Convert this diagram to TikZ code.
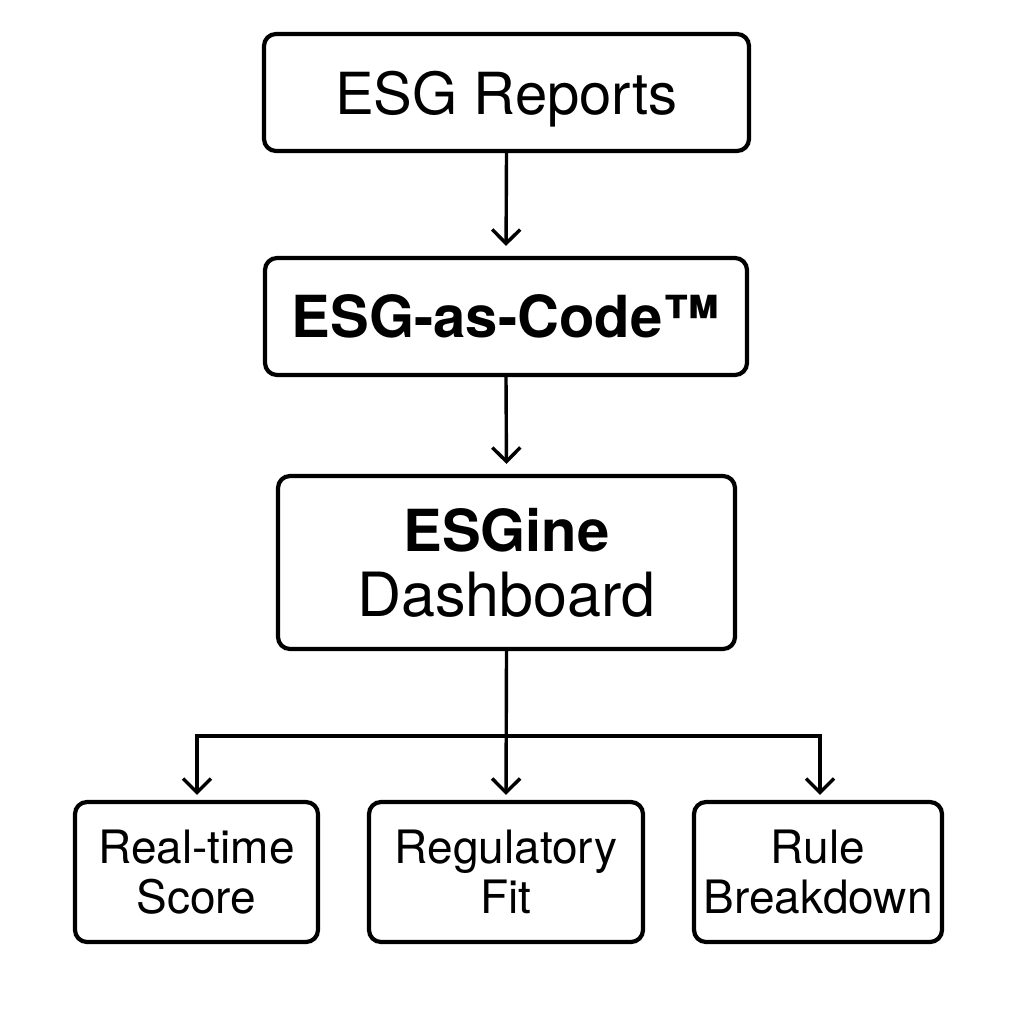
\documentclass[tikz,border=0pt]{standalone}
\usepackage{fontspec}
\setmainfont{TeX Gyre Heros}
\usetikzlibrary{arrows.meta}
\begin{document}
\begin{tikzpicture}[x=1pt,y=-1pt,
  box/.style={draw, line width=4.2pt, rounded corners=12pt, inner sep=0pt, align=center},
  bigtext/.style={font=\fontsize{58}{65}\selectfont},
  smalltext/.style={font=\fontsize{46}{50}\selectfont},
  link/.style={line width=3.4pt, line join=miter, -{Straight Barb[length=14pt,width=28pt,line width=3.4pt]}}]
\useasboundingbox (0,0) rectangle (1024,1024);
\node[box, bigtext, text depth=0pt, minimum width=485pt, minimum height=117pt] (rep) at (506.5,92.5) {ESG Reports};
\node[box, bigtext, minimum width=482pt, minimum height=117pt] (code) at (506,316.5) {\bfseries ESG-as-Code™};
\node[box, font=\fontsize{61}{65}\selectfont, minimum width=457pt, minimum height=173pt] (dash) at (506.5,562.5) {{\fontsize{58}{65}\selectfont\bfseries ESGine}\\Dashboard};
\node[box, smalltext, minimum width=243pt, minimum height=140pt] (rt) at (196.5,872) {Real-time\\Score};
\node[box, smalltext, minimum width=274pt, minimum height=140pt] (reg) at (506,872) {Regulatory\\Fit};
\node[box, smalltext, minimum width=248pt, minimum height=140pt] (rule) at (818,872) {Rule\\Breakdown};
\coordinate (bl) at (197,736);
\coordinate (br) at (820,736);
\draw[link, shorten >=10pt] (rep.south) -- (code.north);
\draw[link, shorten >=10pt] (code.south) -- (dash.north);
\draw[link, shorten >=5pt] (dash.south) -- (reg.north);
\draw[link, shorten >=5pt] (dash.south |- bl) -- (bl) -- (bl |- rt.north);
\draw[link, shorten >=5pt] (dash.south |- br) -- (br) -- (br |- rule.north);
\end{tikzpicture}
\end{document}
